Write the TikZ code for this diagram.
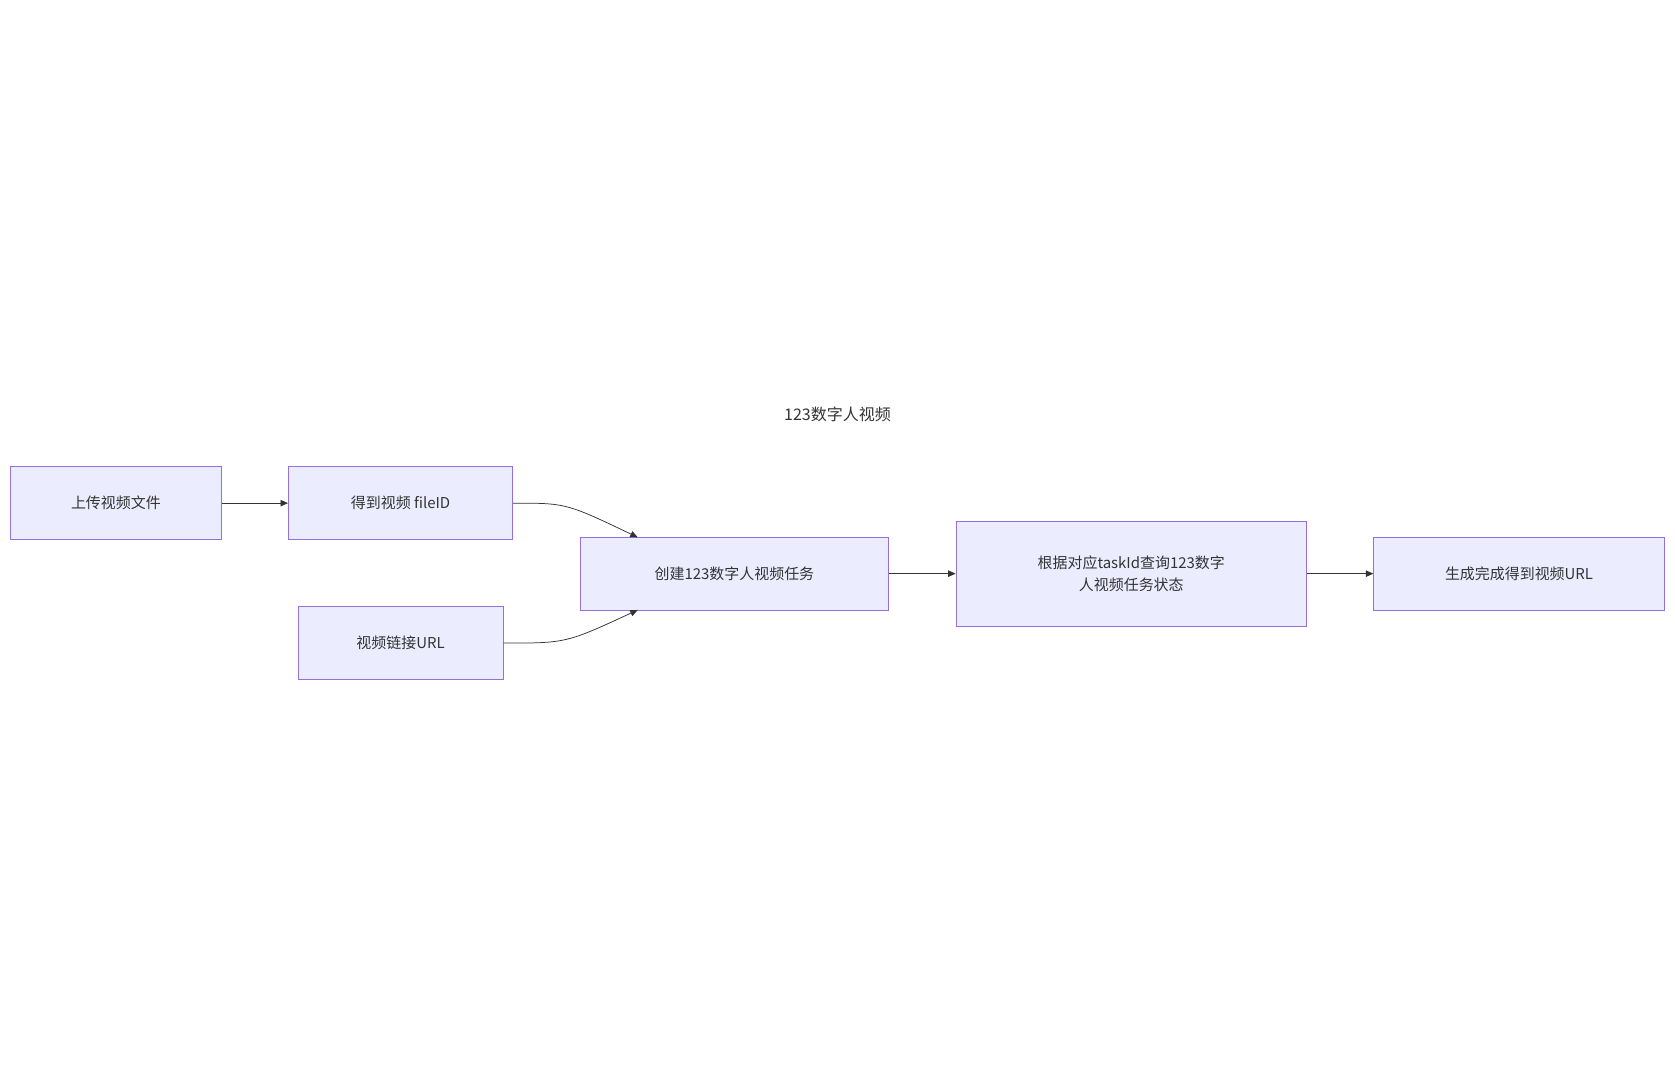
\documentclass[tikz,border=0pt]{standalone}
\usepackage{fontspec}
\setmainfont{Noto Sans CJK SC}
\usetikzlibrary{arrows.meta}
\definecolor{boxfill}{HTML}{ECECFF}
\definecolor{boxline}{HTML}{9370DB}
\definecolor{linkcol}{HTML}{333333}
\tikzset{
    stepbox/.style={draw=boxline, fill=boxfill, line width=0.8pt, font=\fontsize{14}{20}\selectfont,
        text=linkcol, align=center, inner sep=0pt},
    link/.style={draw=linkcol, line width=0.7pt, -{Triangle[length=7pt,width=6pt]}}
}
\begin{document}
\begin{tikzpicture}[x=1pt, y=-1pt]
    \useasboundingbox (0,0) rectangle (1568,1011);
    % Define nodes
    \node at (784,388) [font=\fontsize{15}{18}\selectfont, text=linkcol] (title) {123数字人视频};
    \node[stepbox, minimum width=197pt, minimum height=68pt] (upload) at (108.5,471) {上传视频文件};
    \node[stepbox, minimum width=210pt, minimum height=68pt] (fileid) at (375,471) {得到视频 fileID};
    \node[stepbox, minimum width=192pt, minimum height=68pt] (url) at (375,602) {视频链接URL};
    \node[stepbox, minimum width=289pt, minimum height=68pt] (create) at (687.5,537) {创建123数字人视频任务};
    \node[stepbox, minimum width=328pt, minimum height=98pt] (query) at (1059,537) {根据对应taskId查询123数字\\人视频任务状态};
    \node[stepbox, minimum width=272pt, minimum height=68pt] (done) at (1422,537) {生成完成得到视频URL};
    \coordinate (intop) at (597,503);
    \coordinate (inbot) at (597,571);

    \draw[link] (upload) -- (fileid);
    \draw[link] (fileid.east) .. controls (530,471) .. (intop);
    \draw[link] (url.east) .. controls (530,602) .. (inbot);
    \draw[link] (create) -- (query);
    \draw[link] (query) -- (done);
\end{tikzpicture}
\end{document}
